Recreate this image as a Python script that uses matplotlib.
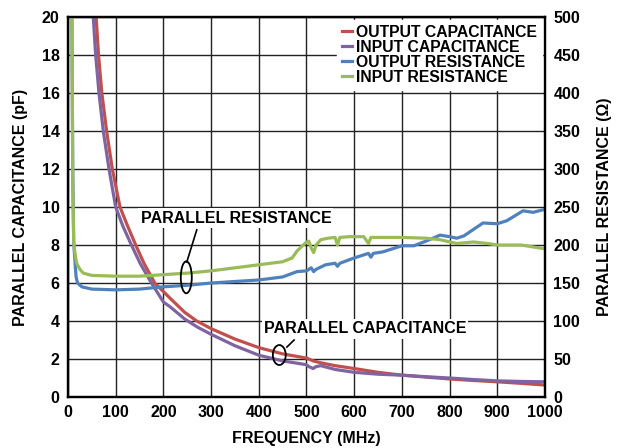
import numpy as np
import matplotlib
matplotlib.use('Agg')
import matplotlib.pyplot as plt
from matplotlib.patches import Ellipse

plt.rcParams['font.family'] = ['Liberation Sans', 'DejaVu Sans']
plt.rcParams['font.weight'] = 'bold'

# capacitance (pF) vs frequency (MHz)
f_cout = [55, 59, 64, 71, 81, 93, 109, 125, 142, 160, 182, 214, 245, 270, 300, 350, 400,
          450, 500, 514, 530, 560, 600, 650, 700, 750, 800, 850, 900, 950, 1000]
c_out = [22, 20, 18, 16, 14, 12, 10, 9, 8, 7, 6, 5.2, 4.45, 4.0, 3.6, 3.05, 2.6,
         2.27, 2.05, 1.9, 1.8, 1.65, 1.5, 1.3, 1.15, 1.05, 0.95, 0.87, 0.8, 0.72, 0.63]

f_cin = [50, 53, 58, 65, 74, 86, 100, 115, 133, 152, 175, 200, 214, 245, 270, 300, 350,
         400, 450, 500, 505, 514, 520, 530, 560, 600, 650, 700, 750, 800, 850, 900, 950, 1000]
c_in = [22, 20, 18, 16, 14, 12, 10, 9, 8, 7, 6, 5, 4.75, 4.1, 3.7, 3.3, 2.7,
        2.2, 1.9, 1.7, 1.6, 1.5, 1.6, 1.65, 1.45, 1.3, 1.2, 1.15, 1.07, 1.0, 0.92, 0.85, 0.82, 0.8]

# resistance (ohm) vs frequency (MHz)
f_rout = [8, 10, 12, 15, 17, 20, 29, 50, 100, 150, 200, 250, 300, 350, 400, 450, 480,
          500, 510, 515, 520, 540, 560, 565, 570, 600, 630, 635, 640, 660, 700, 725,
          750, 780, 800, 815, 830, 870, 900, 920, 954, 975, 1000]
r_out = [520, 300, 203, 175, 158, 150, 145, 142, 141, 142, 145, 147, 150, 152, 154, 158, 165,
         166, 170, 165, 168, 174, 176, 172, 176, 183, 189, 184, 189, 191, 199, 199,
         205, 213, 211, 209, 212, 229, 228, 232, 245, 243, 247]

f_rin = [8, 9, 10, 12, 15, 18, 25, 32, 50, 100, 150, 200, 250, 300, 350, 400, 450, 470,
         480, 490, 500, 505, 510, 515, 520, 530, 545, 560, 565, 570, 590, 620, 630,
         635, 650, 700, 750, 780, 815, 850, 880, 900, 950, 1000]
r_in = [520, 400, 280, 203, 188, 176, 168, 163, 160, 159, 159, 161, 163, 166, 170, 174, 178, 183,
        192, 198, 204, 205, 196, 190, 200, 207, 209, 210, 200, 210, 211, 211, 202,
        210, 210, 210, 209, 207, 202, 204, 202, 200, 200, 195]

RED = '#C0504D'
PURPLE = '#8064A2'
BLUE = '#4F81BD'
GREEN = '#9BBB59'

fig = plt.figure(figsize=(6.22, 4.48), dpi=100)
ax = fig.add_axes([0.1093, 0.1138, 0.7669, 0.8482])
ax2 = ax.twinx()

l1, = ax.plot(f_cout, c_out, color=RED, lw=2.3, label='OUTPUT CAPACITANCE')
l2, = ax.plot(f_cin, c_in, color=PURPLE, lw=2.3, label='INPUT CAPACITANCE')
l3, = ax2.plot(f_rout, r_out, color=BLUE, lw=2.3, label='OUTPUT RESISTANCE')
l4, = ax2.plot(f_rin, r_in, color=GREEN, lw=2.3, label='INPUT RESISTANCE')

ax.set_xlim(0, 1000)
ax.set_ylim(0, 20)
ax2.set_ylim(0, 500)
ax.set_xticks(np.arange(0, 1001, 100))
ax.set_yticks(np.arange(0, 21, 2))
ax2.set_yticks(np.arange(0, 501, 50))
ax.grid(True, color='#222222', lw=1.0)
ax.set_axisbelow(True)

for a in (ax, ax2):
    a.tick_params(length=0, labelsize=11.5, pad=6)
    for s in a.spines.values():
        s.set_linewidth(1.6)
        s.set_color('black')

ax.set_xlabel('FREQUENCY (MHz)', fontsize=11.5, fontweight='bold', labelpad=8)
ax.set_ylabel('PARALLEL CAPACITANCE (pF)', fontsize=11.5, fontweight='bold', labelpad=10)
ax2.set_ylabel('PARALLEL RESISTANCE (Ω)', fontsize=11.5, fontweight='bold', labelpad=12)

# annotations
box = dict(facecolor='white', edgecolor='none', pad=1.5)
ax.text(352, 9.42, 'PARALLEL RESISTANCE', ha='center', va='center', fontsize=11.5,
        fontweight='bold', bbox=box, zorder=5)
ax.text(623, 3.58, 'PARALLEL CAPACITANCE', ha='center', va='center', fontsize=11.5,
        fontweight='bold', bbox=box, zorder=5)
ax2.add_patch(Ellipse((248, 6.3 * 25), 23, 1.68 * 25, fill=False, ec='black', lw=1.3, zorder=6))
ax2.add_patch(Ellipse((443, 2.21 * 25), 27, 1.05 * 25, fill=False, ec='black', lw=1.3, zorder=6))
ax2.plot([270, 249], [8.8 * 25, 7.1 * 25], color='black', lw=1.2, zorder=6)
ax2.plot([459, 474], [2.63 * 25, 3.0 * 25], color='black', lw=1.2, zorder=6)

leg = ax2.legend(handles=[l1, l2, l3, l4], loc='upper right', fontsize=11.3,
                 frameon=True, fancybox=False, framealpha=1, edgecolor='white',
                 handlelength=0.6, handletextpad=0.3, labelspacing=0.0,
                 borderpad=0.3, borderaxespad=0.2)
for t in leg.get_texts():
    t.set_fontweight('bold')
leg.set_zorder(10)

fig.savefig('out.png', dpi=100)
